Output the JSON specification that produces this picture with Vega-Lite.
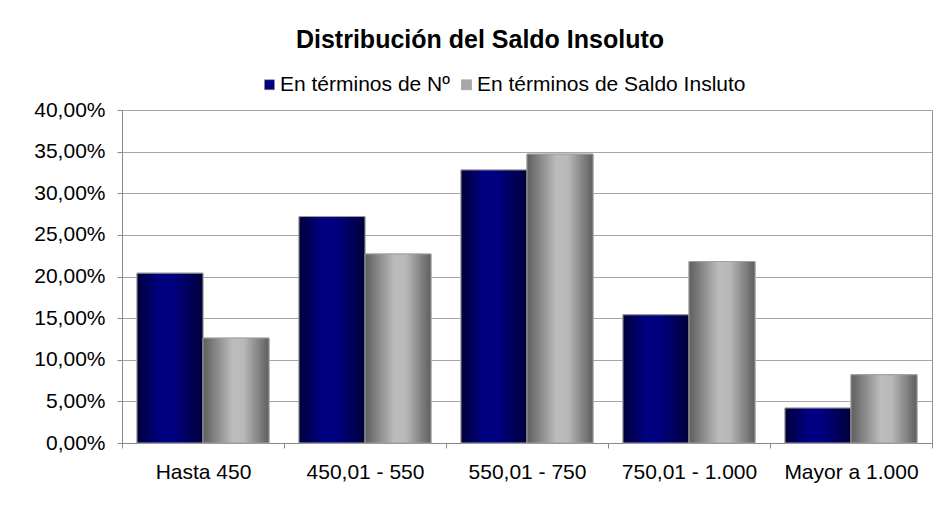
{
  "$schema": "https://vega.github.io/schema/vega-lite/v6.json",
  "width": 810,
  "height": 333,
  "autosize": {"type": "none"},
  "padding": {"left": 122, "top": 110, "right": 5, "bottom": 69},
  "background": "white",
  "title": {
    "text": "Distribución del Saldo Insoluto",
    "font": "Liberation Sans",
    "fontSize": 25,
    "fontWeight": "bold",
    "color": "black",
    "anchor": "middle",
    "dx": -47,
    "offset": 21
  },
  "config": {
    "view": {"stroke": "#909090", "strokeWidth": 1},
    "axis": {
      "labelFont": "Liberation Sans",
      "labelFontSize": 21,
      "labelColor": "black",
      "domainColor": "#888888",
      "tickColor": "#888888",
      "gridColor": "#a6a6a6"
    }
  },
  "data": {
    "values": [
      {"rango": "Hasta 450", "serie": "En términos de Nº", "valor": 0.204},
      {"rango": "Hasta 450", "serie": "En términos de Saldo Insluto", "valor": 0.126},
      {"rango": "450,01 - 550", "serie": "En términos de Nº", "valor": 0.272},
      {"rango": "450,01 - 550", "serie": "En términos de Saldo Insluto", "valor": 0.227},
      {"rango": "550,01 - 750", "serie": "En términos de Nº", "valor": 0.328},
      {"rango": "550,01 - 750", "serie": "En términos de Saldo Insluto", "valor": 0.347},
      {"rango": "750,01 - 1.000", "serie": "En términos de Nº", "valor": 0.154},
      {"rango": "750,01 - 1.000", "serie": "En términos de Saldo Insluto", "valor": 0.218},
      {"rango": "Mayor a 1.000", "serie": "En términos de Nº", "valor": 0.042},
      {"rango": "Mayor a 1.000", "serie": "En términos de Saldo Insluto", "valor": 0.082}
    ]
  },
  "encoding": {
    "x": {
      "field": "rango",
      "type": "nominal",
      "sort": ["Hasta 450", "450,01 - 550", "550,01 - 750", "750,01 - 1.000", "Mayor a 1.000"],
      "scale": {"paddingInner": 0, "paddingOuter": 0},
      "axis": {
        "title": null,
        "labelAngle": 0,
        "tickBand": "extent",
        "tickSize": 5,
        "labelPadding": 13,
        "labelLimit": 200,
        "grid": false
      }
    },
    "xOffset": {
      "field": "serie",
      "type": "nominal",
      "sort": ["En términos de Nº", "En términos de Saldo Insluto"],
      "scale": {"paddingInner": 0, "paddingOuter": 0.227}
    },
    "y": {
      "field": "valor",
      "type": "quantitative",
      "scale": {"domain": [0, 0.4], "nice": false},
      "axis": {
        "title": null,
        "values": [0, 0.05, 0.1, 0.15, 0.2, 0.25, 0.3, 0.35, 0.4],
        "labelExpr": "replace(format(datum.value, '.2%'), '.', ',')",
        "tickSize": 5,
        "labelPadding": 12,
        "grid": true
      }
    }
  },
  "layer": [
    {
      "mark": {"type": "bar", "stroke": "#a0a0a0", "strokeWidth": 1},
      "encoding": {
        "color": {
          "field": "serie",
          "type": "nominal",
          "sort": ["En términos de Nº", "En términos de Saldo Insluto"],
          "scale": {
            "domain": ["En términos de Nº", "En términos de Saldo Insluto"],
            "range": ["#000080", "#a8a8a8"]
          },
          "legend": {
            "title": null,
            "orient": "none",
            "legendX": 137,
            "legendY": -36,
            "direction": "horizontal",
            "padding": 0,
            "labelFont": "Liberation Sans",
            "labelFontSize": 21,
            "labelColor": "black",
            "labelLimit": 400,
            "labelOffset": 0,
            "columnPadding": 6,
            "symbolType": "square",
            "symbolSize": 100,
            "symbolStrokeColor": "#888888",
            "symbolStrokeWidth": 0.5
          }
        }
      }
    },
    {
      "transform": [{"filter": "datum.serie === 'En términos de Nº'"}],
      "mark": {
        "type": "bar",
        "stroke": "#a0a0a0",
        "strokeWidth": 1,
        "color": {"gradient": "linear", "x1": 0, "x2": 1, "y1": 0, "y2": 0, "stops": [
          {"offset": 0, "color": "#00003a"},
          {"offset": 0.35, "color": "#000082"},
          {"offset": 0.55, "color": "#000080"},
          {"offset": 1, "color": "#00003a"}
        ]}
      }
    },
    {
      "transform": [{"filter": "datum.serie === 'En términos de Saldo Insluto'"}],
      "mark": {
        "type": "bar",
        "stroke": "#a0a0a0",
        "strokeWidth": 1,
        "color": {"gradient": "linear", "x1": 0, "x2": 1, "y1": 0, "y2": 0, "stops": [
          {"offset": 0, "color": "#5e5e5e"},
          {"offset": 0.45, "color": "#bcbcbc"},
          {"offset": 0.62, "color": "#b8b8b8"},
          {"offset": 1, "color": "#5e5e5e"}
        ]}
      }
    }
  ]
}
